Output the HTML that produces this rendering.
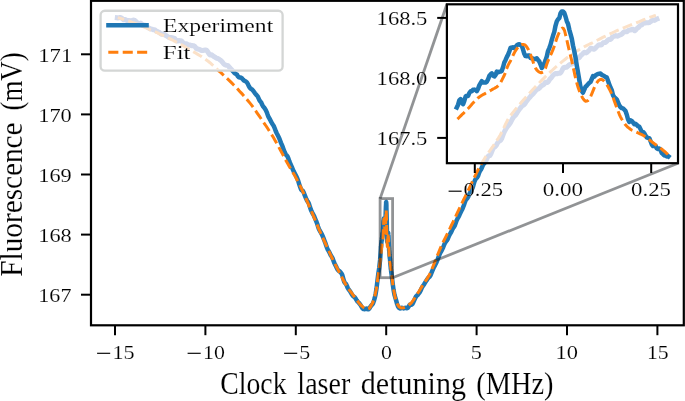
<!DOCTYPE html>
<html><head><meta charset="utf-8"><title>Fluorescence vs clock laser detuning</title>
<style>html,body{margin:0;padding:0;background:#fff;}body{width:685px;height:401px;overflow:hidden;}svg{display:block;}text{font-family:"Liberation Serif",serif;fill:#000;stroke:#fff;stroke-width:0.14px;}</style></head><body>
<svg style="will-change:transform" width="685" height="401" viewBox="0 0 685 401">
<rect x="0" y="0" width="685" height="401" fill="#ffffff"/>
<defs><clipPath id="cm"><rect x="91.0" y="0.8" width="592.8" height="324.5"/></clipPath>
<clipPath id="ci"><rect x="446.9" y="4.3" width="231.1" height="158.9"/></clipPath>
<clipPath id="cf"><rect x="101.4" y="11.3" width="180.2" height="58.3" rx="3.5" ry="3.5"/><rect x="446.9" y="4.3" width="231.1" height="158.9"/></clipPath></defs>
<g clip-path="url(#cm)" fill="none" stroke-linejoin="round">
<path d="M117.3 17.8L118.2 17.9L119.1 17.7L120.0 17.4L120.9 17.6L121.8 18.1L122.7 19.1L123.6 19.8L124.5 19.6L125.4 19.6L126.3 20.2L127.2 20.6L128.1 20.5L129.0 20.4L129.9 20.9L130.8 21.1L131.7 20.7L132.6 20.3L133.5 20.1L134.4 20.2L135.3 20.8L136.2 21.7L137.1 22.6L138.0 23.5L138.9 23.9L139.8 23.4L140.7 23.1L141.6 23.9L142.5 24.9L143.4 25.2L144.3 25.1L145.2 25.3L146.1 25.8L147.0 26.7L147.9 27.6L148.8 28.0L149.7 28.5L150.6 29.0L151.5 29.1L152.4 29.3L153.3 29.7L154.2 29.8L155.1 30.0L156.0 30.9L156.9 31.5L157.8 31.6L158.7 32.1L159.6 32.7L160.5 33.4L161.4 34.3L162.3 34.3L163.2 33.9L164.1 34.2L165.0 35.0L165.9 35.5L166.8 36.0L167.7 36.6L168.6 37.3L169.5 37.7L170.4 37.5L171.3 37.5L172.2 37.7L173.1 37.9L174.0 38.1L174.9 38.7L175.8 39.9L176.7 41.0L177.6 41.1L178.5 40.5L179.4 40.6L180.3 40.8L181.2 40.8L182.1 41.5L183.0 42.8L183.9 43.9L184.8 44.0L185.7 43.7L186.6 43.7L187.5 44.4L188.4 45.1L189.3 45.1L190.2 45.1L191.1 45.5L192.0 45.7L192.9 45.6L193.8 45.8L194.7 46.4L195.6 47.5L196.5 48.5L197.4 49.0L198.3 49.1L199.2 49.4L200.1 49.8L201.0 50.3L201.9 50.6L202.8 50.5L203.7 50.3L204.6 50.2L205.5 49.9L206.4 50.1L207.3 51.2L208.2 52.5L209.1 54.1L210.0 55.0L210.9 54.8L211.8 54.8L212.7 55.6L213.6 56.4L214.5 56.8L215.4 57.4L216.3 58.2L217.2 58.5L218.1 58.6L219.0 59.1L219.9 59.8L220.8 60.4L221.7 61.3L222.6 62.4L223.5 63.7L224.4 64.5L225.3 64.9L226.2 65.2L227.1 65.4L228.0 65.7L228.9 66.7L229.8 67.8L230.7 68.7L231.6 69.7L232.5 70.7L233.4 71.7L234.3 72.8L235.2 73.6L236.1 74.1L237.0 74.7L237.9 76.3L238.8 77.3L239.7 77.4L240.6 77.4L241.5 77.9L242.4 78.8L243.3 79.9L244.2 80.6L245.1 81.0L246.0 81.6L246.9 82.4L247.8 83.9L248.7 85.8L249.6 87.4L250.5 88.4L251.4 89.1L252.3 89.7L253.2 90.7L254.1 92.0L255.0 93.3L255.9 94.4L256.8 95.3L257.7 96.4L258.6 98.4L259.5 100.4L260.4 101.5L261.3 102.7L262.2 104.8L263.1 106.5L264.0 107.4L264.9 108.6L265.8 110.1L266.7 112.1L267.6 114.6L268.5 116.8L269.4 118.4L270.3 120.1L271.2 121.9L272.1 123.5L273.0 124.9L273.9 126.3L274.8 128.5L275.7 131.0L276.6 133.0L277.5 134.8L278.4 136.6L279.3 138.4L280.2 140.7L281.1 143.1L282.0 145.2L282.9 147.4L283.8 149.9L284.7 152.3L285.6 154.1L286.5 155.3L287.4 156.3L288.3 158.2L289.2 160.9L290.1 163.3L291.0 165.1L291.9 167.1L292.8 169.3L293.7 171.4L294.6 173.1L295.5 174.8L296.4 176.6L297.3 178.5L298.2 180.9L299.1 183.8L300.0 186.6L300.9 189.1L301.8 190.3L302.7 190.8L303.6 192.2L304.5 194.6L305.4 196.9L306.3 199.1L307.2 200.9L308.1 202.0L309.0 203.8L309.9 206.8L310.8 209.5L311.7 211.6L312.6 213.4L313.5 214.9L314.4 216.8L315.3 219.0L316.2 221.1L317.1 223.5L318.0 226.4L318.9 229.0L319.8 230.8L320.7 232.2L321.6 233.8L322.5 235.7L323.4 237.9L324.3 240.3L325.2 242.6L326.1 245.2L327.0 247.8L327.9 249.9L328.8 251.3L329.7 253.1L330.6 255.0L331.5 256.4L332.4 257.9L333.3 260.2L334.2 262.7L335.1 264.6L336.0 266.3L336.9 268.2L337.8 269.9L338.7 270.7L339.6 271.2L340.5 272.2L341.4 273.3L342.3 275.1L343.2 278.4L344.1 281.5L345.0 283.0L345.9 283.9L346.8 285.6L347.7 287.9L348.6 289.4L349.5 290.5L350.4 291.8L351.3 293.3L352.2 294.9L353.1 296.0L354.0 296.7L354.9 297.5L355.8 298.8L356.7 300.3L357.6 301.6L358.5 302.4L359.4 303.5L360.3 304.6L361.2 306.1L362.1 307.8L363.0 308.9L363.9 309.0L364.8 309.2L365.7 308.9L366.6 308.5L367.5 309.0L368.4 309.3L369.3 308.5L370.2 307.0L371.1 305.8L372.0 304.8L372.9 303.6L373.8 301.3L374.7 298.2L375.6 294.2L376.5 288.7L377.4 280.9L378.3 273.9L379.2 268.0L380.1 260.0L380.8 249.9L380.9 248.0L380.9 246.6L381.0 247.4L381.1 246.7L381.2 243.7L381.4 242.8L381.5 241.4L381.6 240.5L381.7 241.1L381.9 239.2L382.0 237.7L382.1 237.5L382.3 236.4L382.4 234.8L382.5 233.0L382.6 234.3L382.7 234.8L382.9 232.1L383.0 231.1L383.1 229.6L383.3 225.5L383.4 223.2L383.5 221.1L383.6 220.5L383.7 220.4L383.8 219.3L383.9 218.5L384.0 219.4L384.1 220.7L384.3 222.9L384.4 223.5L384.5 224.4L384.6 225.4L384.7 225.9L384.9 225.5L385.0 227.1L385.1 228.5L385.1 229.2L385.2 228.4L385.3 226.6L385.4 223.2L385.5 219.7L385.6 216.3L385.7 213.1L385.8 209.7L385.9 206.6L386.0 205.3L386.1 203.7L386.1 202.4L386.2 202.0L386.3 203.2L386.4 205.4L386.4 207.6L386.5 210.8L386.6 214.1L386.7 217.7L386.8 221.7L386.8 225.6L386.9 229.4L387.0 233.9L387.1 238.2L387.1 240.7L387.2 241.7L387.3 241.0L387.4 239.7L387.6 238.2L387.7 236.4L387.8 234.7L387.9 233.6L388.0 232.9L388.1 232.6L388.2 233.2L388.3 234.2L388.5 235.8L388.6 238.5L388.7 241.4L388.8 243.7L388.9 246.5L389.0 247.4L389.1 248.5L389.1 250.1L389.2 250.5L389.3 251.0L389.4 252.6L389.5 255.0L389.7 256.6L389.8 258.0L390.0 259.0L390.1 260.6L390.2 262.5L390.3 263.4L390.4 264.3L390.5 265.5L390.7 267.1L390.8 269.0L391.0 269.7L391.1 271.2L391.2 271.6L391.3 272.7L391.5 273.9L391.6 274.5L392.7 283.7L393.6 290.2L394.5 294.9L395.4 297.9L396.3 301.0L397.2 304.3L398.1 306.6L399.0 307.8L399.9 308.4L400.8 308.3L401.7 307.8L402.6 307.9L403.5 308.4L404.4 308.1L405.3 307.7L406.2 308.1L407.1 308.3L408.0 307.6L408.9 306.1L409.8 304.8L410.7 304.6L411.6 304.7L412.5 303.8L413.4 302.2L414.3 300.2L415.2 298.1L416.1 296.4L417.0 295.5L417.9 294.7L418.8 293.5L419.7 292.3L420.6 290.6L421.5 288.5L422.4 286.8L423.3 285.5L424.2 284.2L425.1 282.7L426.0 281.2L426.9 279.9L427.8 278.5L428.7 277.4L429.6 276.7L430.5 275.3L431.4 273.1L432.3 270.9L433.2 268.8L434.1 266.9L435.0 265.3L435.9 263.5L436.8 261.5L437.7 259.2L438.6 256.9L439.5 254.7L440.4 252.7L441.3 251.1L442.2 249.4L443.1 247.5L444.0 245.2L444.9 243.1L445.8 241.8L446.7 240.7L447.6 239.3L448.5 237.2L449.4 235.2L450.3 233.5L451.2 232.0L452.1 230.0L453.0 228.2L453.9 227.1L454.8 225.6L455.7 223.0L456.6 220.5L457.5 218.7L458.4 217.1L459.3 215.4L460.2 213.4L461.1 211.5L462.0 209.8L462.9 207.8L463.8 205.5L464.7 202.8L465.6 200.4L466.5 199.0L467.4 198.2L468.3 196.6L469.2 194.5L470.1 192.6L471.0 190.8L471.9 189.3L472.8 187.3L473.7 184.2L474.6 181.2L475.5 179.3L476.4 178.2L477.3 177.3L478.2 175.6L479.1 172.9L480.0 170.8L480.9 169.6L481.8 167.9L482.7 165.7L483.6 164.2L484.5 163.1L485.4 161.8L486.3 159.9L487.2 157.9L488.1 156.3L489.0 155.7L489.9 155.5L490.8 154.2L491.7 151.9L492.6 149.6L493.5 147.9L494.4 147.2L495.3 146.6L496.2 145.4L497.1 143.8L498.0 142.3L498.9 141.3L499.8 140.8L500.7 140.3L501.6 138.8L502.5 136.3L503.4 133.8L504.3 132.0L505.2 130.2L506.1 128.6L507.0 127.2L507.9 126.0L508.8 125.0L509.7 123.8L510.6 122.4L511.5 120.6L512.4 118.9L513.3 117.4L514.2 116.4L515.1 115.5L516.0 114.5L516.9 113.1L517.8 111.5L518.7 110.2L519.6 109.0L520.5 107.9L521.4 106.7L522.3 105.6L523.2 105.2L524.1 104.7L525.0 103.6L525.9 102.2L526.8 100.9L527.7 99.7L528.6 98.7L529.5 97.7L530.4 96.6L531.3 95.4L532.2 94.7L533.1 93.8L534.0 92.7L534.9 91.6L535.8 90.5L536.7 89.5L537.6 89.1L538.5 88.8L539.4 88.1L540.3 87.0L541.2 86.0L542.1 85.4L543.0 85.1L543.9 84.4L544.8 83.2L545.7 82.2L546.6 82.3L547.5 82.4L548.4 81.6L549.3 80.0L550.2 78.7L551.1 78.0L552.0 76.8L552.9 75.4L553.8 74.7L554.7 73.9L555.6 73.4L556.5 73.5L557.4 73.7L558.3 73.3L559.2 73.1L560.1 73.2L561.0 72.3L561.9 70.6L562.8 68.8L563.7 67.6L564.6 67.3L565.5 67.4L566.4 67.2L567.3 66.7L568.2 65.9L569.1 64.9L570.0 64.4L570.9 64.3L571.8 64.1L572.7 63.4L573.6 62.4L574.5 61.2L575.4 60.0L576.3 58.7L577.2 58.1L578.1 58.1L579.0 57.9L579.9 56.8L580.8 55.5L581.7 54.8L582.6 54.0L583.5 52.9L584.4 52.2L585.3 52.6L586.2 52.9L587.1 52.4L588.0 51.4L588.9 50.6L589.8 49.5L590.7 48.2L591.6 48.2L592.5 48.9L593.4 49.2L594.3 49.2L595.2 48.4L596.1 47.3L597.0 46.5L597.9 45.7L598.8 44.9L599.7 44.7L600.6 45.0L601.5 44.8L602.4 43.7L603.3 42.8L604.2 42.6L605.1 42.5L606.0 42.1L606.9 41.2L607.8 40.1L608.7 39.4L609.6 39.4L610.5 39.4L611.4 38.6L612.3 37.2L613.2 36.6L614.1 36.4L615.0 35.9L615.9 35.6L616.8 36.1L617.7 36.2L618.6 35.6L619.5 35.1L620.4 34.8L621.3 34.5L622.2 33.8L623.1 32.7L624.0 32.0L624.9 31.8L625.8 31.8L626.7 31.7L627.6 31.2L628.5 30.4L629.4 30.1L630.3 30.1L631.2 29.8L632.1 29.2L633.0 29.3L633.9 30.2L634.8 30.8L635.7 30.1L636.6 28.8L637.5 28.0L638.4 27.5L639.3 26.5L640.2 25.5L641.1 25.2L642.0 24.8L642.9 23.6L643.8 22.6L644.7 22.5L645.6 22.9L646.5 22.8L647.4 22.7L648.3 22.8L649.2 22.6L650.1 22.0L651.0 21.4L651.9 20.6L652.8 20.1L653.7 20.2L654.6 20.4L655.5 19.9L656.4 19.2L656.9 19.0" stroke="#1f77b4" stroke-width="4.5" stroke-linecap="square"/>
<path d="M117.8 17.6L119.6 18.1L121.4 18.7L123.2 19.2L125.0 19.8L126.8 20.4L128.6 21.0L130.5 21.6L132.3 22.3L134.1 23.0L135.9 23.7L137.7 24.4L139.5 25.1L141.3 25.9L143.1 26.6L144.9 27.4L146.7 28.2L148.5 29.0L150.3 29.8L152.2 30.5L154.0 31.3L155.8 32.1L157.6 32.9L159.4 33.8L161.2 34.6L163.0 35.4L164.8 36.3L166.6 37.1L168.4 38.0L170.2 38.9L172.0 39.8L173.8 40.8L175.7 41.7L177.5 42.7L179.3 43.6L181.1 44.6L182.9 45.6L184.7 46.6L186.5 47.7L188.3 48.7L190.1 49.8L191.9 50.8L193.7 51.9L195.5 53.0L197.4 54.1L199.2 55.2L201.0 56.3L202.8 57.5L204.6 58.7L206.4 60.0L208.2 61.3L210.0 62.7L211.8 64.3L213.6 65.9L215.4 67.7L217.2 69.4L219.0 71.1L220.9 72.7L222.7 74.4L224.5 76.0L226.3 77.7L228.1 79.4L229.9 81.1L231.7 82.9L233.5 84.7L235.3 86.6L237.1 88.5L238.9 90.4L240.7 92.4L242.6 94.4L244.4 96.5L246.2 98.5L248.0 100.7L249.8 102.9L251.6 105.2L253.4 107.6L255.2 110.2L257.0 112.8L258.8 115.4L260.6 118.0L262.4 120.7L264.2 123.3L266.1 126.0L267.9 128.8L269.7 131.6L271.5 134.4L273.3 137.3L275.1 140.4L276.9 143.6L278.7 146.9L280.5 150.2L282.3 153.6L284.1 157.0L285.9 160.4L287.8 163.7L289.6 166.9L291.4 170.0L293.2 173.0L295.0 176.1L296.8 179.5L298.6 182.9L300.4 186.4L302.2 190.2L304.0 194.1L305.8 198.3L307.6 202.4L309.4 206.6L311.3 210.8L313.1 215.1L314.9 219.4L316.7 223.7L318.5 228.1L320.3 232.2L322.1 236.3L323.9 240.2L325.7 244.1L327.5 248.0L329.3 252.0L331.1 256.0L333.0 259.8L334.8 263.5L336.6 267.1L338.4 270.6L340.2 274.1L342.0 277.5L343.8 281.0L345.6 284.2L347.4 287.1L349.2 289.8L351.0 292.2L352.8 294.6L354.6 297.0L356.5 299.5L358.3 302.1L360.1 304.4L361.9 306.1L363.7 307.5L365.5 308.6L367.3 309.2L369.1 308.5L370.9 306.0L372.7 302.7L374.5 297.5L376.3 289.3L378.2 275.5L379.0 269.7L379.1 268.5L379.3 267.2L379.5 265.9L379.7 264.6L379.9 263.3L380.1 261.9L380.2 260.5L380.4 259.0L380.6 257.5L380.8 256.0L381.0 254.3L381.1 252.5L381.3 250.7L381.5 248.7L381.7 246.8L381.9 245.2L382.0 243.9L382.2 242.9L382.4 241.9L382.6 240.9L382.8 239.9L382.9 238.4L383.1 235.2L383.3 230.7L383.5 227.0L383.7 223.3L383.8 220.4L384.0 218.7L384.2 218.5L384.4 220.4L384.6 224.4L384.8 229.4L384.9 231.9L385.1 232.5L385.3 230.5L385.5 225.6L385.7 221.7L385.8 216.6L386.0 212.1L386.2 210.2L386.4 215.4L386.6 223.1L386.7 230.8L386.9 238.3L387.1 243.2L387.3 246.3L387.5 246.6L387.6 243.8L387.8 239.5L388.0 236.6L388.2 235.9L388.4 237.5L388.6 240.3L388.7 244.2L388.9 249.0L389.1 253.6L389.3 256.9L389.5 259.2L389.6 260.8L389.8 261.7L390.0 262.5L390.2 263.3L390.4 264.3L390.5 265.5L390.7 266.9L390.9 268.3L391.1 269.5L391.3 270.9L391.4 272.4L391.6 274.0L391.8 275.5L392.0 277.1L392.2 278.8L392.3 280.3L392.5 281.9L392.7 283.4L392.9 284.7L393.1 286.0L393.3 287.2L393.4 288.3L395.2 297.8L397.0 303.5L398.9 306.6L400.7 307.7L402.5 308.0L404.3 307.5L406.1 306.8L407.9 305.7L409.7 304.3L411.5 302.6L413.3 300.2L415.1 297.4L416.9 294.6L418.7 291.7L420.6 288.7L422.4 285.7L424.2 282.8L426.0 280.3L427.8 277.6L429.6 274.5L431.4 270.5L433.2 266.0L435.0 261.4L436.8 257.0L438.6 252.5L440.4 248.1L442.2 244.0L444.1 240.2L445.9 236.6L447.7 233.0L449.5 229.3L451.3 225.5L453.1 221.8L454.9 218.0L456.7 214.2L458.5 210.4L460.3 206.6L462.1 202.9L463.9 199.1L465.8 195.4L467.6 191.7L469.4 187.9L471.2 184.1L473.0 180.3L474.8 176.5L476.6 172.8L478.4 169.3L480.2 165.9L482.0 162.7L483.8 159.7L485.6 156.8L487.4 154.1L489.3 151.5L491.1 148.9L492.9 146.4L494.7 143.7L496.5 141.0L498.3 138.2L500.1 135.2L501.9 131.9L503.7 128.1L505.5 124.2L507.3 120.6L509.1 117.6L511.0 115.0L512.8 112.6L514.6 110.4L516.4 108.2L518.2 106.0L520.0 103.9L521.8 101.8L523.6 99.8L525.4 97.8L527.2 95.8L529.0 93.8L530.8 91.8L532.6 89.8L534.5 87.8L536.3 85.9L538.1 84.1L539.9 82.2L541.7 80.4L543.5 78.6L545.3 76.8L547.1 75.0L548.9 73.3L550.7 71.6L552.5 70.0L554.3 68.3L556.2 66.7L558.0 65.1L559.8 63.6L561.6 62.1L563.4 60.6L565.2 59.2L567.0 57.8L568.8 56.5L570.6 55.2L572.4 53.9L574.2 52.7L576.0 51.5L577.8 50.4L579.7 49.3L581.5 48.2L583.3 47.3L585.1 46.3L586.9 45.4L588.7 44.5L590.5 43.6L592.3 42.8L594.1 41.8L595.9 40.9L597.7 40.0L599.5 39.1L601.4 38.1L603.2 37.2L605.0 36.3L606.8 35.4L608.6 34.6L610.4 33.7L612.2 32.9L614.0 32.0L615.8 31.2L617.6 30.4L619.4 29.6L621.2 28.8L623.0 28.1L624.9 27.3L626.7 26.6L628.5 25.9L630.3 25.2L632.1 24.5L633.9 23.8L635.7 23.1L637.5 22.3L639.3 21.6L641.1 20.8L642.9 20.0L644.7 19.3L646.6 18.6L648.4 17.9L650.2 17.2L652.0 16.6L653.8 16.0L655.6 15.4L655.9 15.3" stroke="#ff7f0e" stroke-width="3.0" stroke-dasharray="10.06 4.35" stroke-dashoffset="3.5" stroke-linecap="butt"/>
</g>
<g fill="none" stroke="#101418" stroke-opacity="0.46" stroke-width="2.8" stroke-linecap="butt">
<rect x="380.1" y="198.6" width="12.5" height="79.1"/>
<path d="M380.1 198.6L446.9 4.3"/>
<path d="M392.6 277.7L678.0 163.2"/>
</g>
<g stroke="#000" stroke-width="2.2" fill="none" stroke-linecap="square">
<rect x="91.0" y="0.8" width="592.8" height="324.5"/>
</g>
<g stroke="#000" stroke-width="2.0" fill="none" stroke-linecap="butt">
<path d="M115.0 325.4V335.2"/>
<path d="M205.4 325.4V335.2"/>
<path d="M295.8 325.4V335.2"/>
<path d="M386.2 325.4V335.2"/>
<path d="M476.6 325.4V335.2"/>
<path d="M567.0 325.4V335.2"/>
<path d="M657.4 325.4V335.2"/>
<path d="M91.0 294.7H81.0"/>
<path d="M91.0 234.6H81.0"/>
<path d="M91.0 174.5H81.0"/>
<path d="M91.0 114.4H81.0"/>
<path d="M91.0 54.3H81.0"/>
</g>
<rect x="100.6" y="10.75" width="182.0" height="59.85" rx="4.2" ry="4.2" fill="#ffffff" stroke="#d4d6d5" stroke-width="2.3"/>
<rect x="446.9" y="4.3" width="231.1" height="158.9" fill="#ffffff"/>
<g clip-path="url(#cf)" fill="none" stroke-linejoin="round">
<path d="M117.3 17.8L118.2 17.9L119.1 17.7L120.0 17.4L120.9 17.6L121.8 18.1L122.7 19.1L123.6 19.8L124.5 19.6L125.4 19.6L126.3 20.2L127.2 20.6L128.1 20.5L129.0 20.4L129.9 20.9L130.8 21.1L131.7 20.7L132.6 20.3L133.5 20.1L134.4 20.2L135.3 20.8L136.2 21.7L137.1 22.6L138.0 23.5L138.9 23.9L139.8 23.4L140.7 23.1L141.6 23.9L142.5 24.9L143.4 25.2L144.3 25.1L145.2 25.3L146.1 25.8L147.0 26.7L147.9 27.6L148.8 28.0L149.7 28.5L150.6 29.0L151.5 29.1L152.4 29.3L153.3 29.7L154.2 29.8L155.1 30.0L156.0 30.9L156.9 31.5L157.8 31.6L158.7 32.1L159.6 32.7L160.5 33.4L161.4 34.3L162.3 34.3L163.2 33.9L164.1 34.2L165.0 35.0L165.9 35.5L166.8 36.0L167.7 36.6L168.6 37.3L169.5 37.7L170.4 37.5L171.3 37.5L172.2 37.7L173.1 37.9L174.0 38.1L174.9 38.7L175.8 39.9L176.7 41.0L177.6 41.1L178.5 40.5L179.4 40.6L180.3 40.8L181.2 40.8L182.1 41.5L183.0 42.8L183.9 43.9L184.8 44.0L185.7 43.7L186.6 43.7L187.5 44.4L188.4 45.1L189.3 45.1L190.2 45.1L191.1 45.5L192.0 45.7L192.9 45.6L193.8 45.8L194.7 46.4L195.6 47.5L196.5 48.5L197.4 49.0L198.3 49.1L199.2 49.4L200.1 49.8L201.0 50.3L201.9 50.6L202.8 50.5L203.7 50.3L204.6 50.2L205.5 49.9L206.4 50.1L207.3 51.2L208.2 52.5L209.1 54.1L210.0 55.0L210.9 54.8L211.8 54.8L212.7 55.6L213.6 56.4L214.5 56.8L215.4 57.4L216.3 58.2L217.2 58.5L218.1 58.6L219.0 59.1L219.9 59.8L220.8 60.4L221.7 61.3L222.6 62.4L223.5 63.7L224.4 64.5L225.3 64.9L226.2 65.2L227.1 65.4L228.0 65.7L228.9 66.7L229.8 67.8L230.7 68.7L231.6 69.7L232.5 70.7L233.4 71.7L234.3 72.8L235.2 73.6L236.1 74.1L237.0 74.7L237.9 76.3L238.8 77.3L239.7 77.4L240.6 77.4L241.5 77.9L242.4 78.8L243.3 79.9L244.2 80.6L245.1 81.0L246.0 81.6L246.9 82.4L247.8 83.9L248.7 85.8L249.6 87.4L250.5 88.4L251.4 89.1L252.3 89.7L253.2 90.7L254.1 92.0L255.0 93.3L255.9 94.4L256.8 95.3L257.7 96.4L258.6 98.4L259.5 100.4L260.4 101.5L261.3 102.7L262.2 104.8L263.1 106.5L264.0 107.4L264.9 108.6L265.8 110.1L266.7 112.1L267.6 114.6L268.5 116.8L269.4 118.4L270.3 120.1L271.2 121.9L272.1 123.5L273.0 124.9L273.9 126.3L274.8 128.5L275.7 131.0L276.6 133.0L277.5 134.8L278.4 136.6L279.3 138.4L280.2 140.7L281.1 143.1L282.0 145.2L282.9 147.4L283.8 149.9L284.7 152.3L285.6 154.1L286.5 155.3L287.4 156.3L288.3 158.2L289.2 160.9L290.1 163.3L291.0 165.1L291.9 167.1L292.8 169.3L293.7 171.4L294.6 173.1L295.5 174.8L296.4 176.6L297.3 178.5L298.2 180.9L299.1 183.8L300.0 186.6L300.9 189.1L301.8 190.3L302.7 190.8L303.6 192.2L304.5 194.6L305.4 196.9L306.3 199.1L307.2 200.9L308.1 202.0L309.0 203.8L309.9 206.8L310.8 209.5L311.7 211.6L312.6 213.4L313.5 214.9L314.4 216.8L315.3 219.0L316.2 221.1L317.1 223.5L318.0 226.4L318.9 229.0L319.8 230.8L320.7 232.2L321.6 233.8L322.5 235.7L323.4 237.9L324.3 240.3L325.2 242.6L326.1 245.2L327.0 247.8L327.9 249.9L328.8 251.3L329.7 253.1L330.6 255.0L331.5 256.4L332.4 257.9L333.3 260.2L334.2 262.7L335.1 264.6L336.0 266.3L336.9 268.2L337.8 269.9L338.7 270.7L339.6 271.2L340.5 272.2L341.4 273.3L342.3 275.1L343.2 278.4L344.1 281.5L345.0 283.0L345.9 283.9L346.8 285.6L347.7 287.9L348.6 289.4L349.5 290.5L350.4 291.8L351.3 293.3L352.2 294.9L353.1 296.0L354.0 296.7L354.9 297.5L355.8 298.8L356.7 300.3L357.6 301.6L358.5 302.4L359.4 303.5L360.3 304.6L361.2 306.1L362.1 307.8L363.0 308.9L363.9 309.0L364.8 309.2L365.7 308.9L366.6 308.5L367.5 309.0L368.4 309.3L369.3 308.5L370.2 307.0L371.1 305.8L372.0 304.8L372.9 303.6L373.8 301.3L374.7 298.2L375.6 294.2L376.5 288.7L377.4 280.9L378.3 273.9L379.2 268.0L380.1 260.0L380.8 249.9L380.9 248.0L380.9 246.6L381.0 247.4L381.1 246.7L381.2 243.7L381.4 242.8L381.5 241.4L381.6 240.5L381.7 241.1L381.9 239.2L382.0 237.7L382.1 237.5L382.3 236.4L382.4 234.8L382.5 233.0L382.6 234.3L382.7 234.8L382.9 232.1L383.0 231.1L383.1 229.6L383.3 225.5L383.4 223.2L383.5 221.1L383.6 220.5L383.7 220.4L383.8 219.3L383.9 218.5L384.0 219.4L384.1 220.7L384.3 222.9L384.4 223.5L384.5 224.4L384.6 225.4L384.7 225.9L384.9 225.5L385.0 227.1L385.1 228.5L385.1 229.2L385.2 228.4L385.3 226.6L385.4 223.2L385.5 219.7L385.6 216.3L385.7 213.1L385.8 209.7L385.9 206.6L386.0 205.3L386.1 203.7L386.1 202.4L386.2 202.0L386.3 203.2L386.4 205.4L386.4 207.6L386.5 210.8L386.6 214.1L386.7 217.7L386.8 221.7L386.8 225.6L386.9 229.4L387.0 233.9L387.1 238.2L387.1 240.7L387.2 241.7L387.3 241.0L387.4 239.7L387.6 238.2L387.7 236.4L387.8 234.7L387.9 233.6L388.0 232.9L388.1 232.6L388.2 233.2L388.3 234.2L388.5 235.8L388.6 238.5L388.7 241.4L388.8 243.7L388.9 246.5L389.0 247.4L389.1 248.5L389.1 250.1L389.2 250.5L389.3 251.0L389.4 252.6L389.5 255.0L389.7 256.6L389.8 258.0L390.0 259.0L390.1 260.6L390.2 262.5L390.3 263.4L390.4 264.3L390.5 265.5L390.7 267.1L390.8 269.0L391.0 269.7L391.1 271.2L391.2 271.6L391.3 272.7L391.5 273.9L391.6 274.5L392.7 283.7L393.6 290.2L394.5 294.9L395.4 297.9L396.3 301.0L397.2 304.3L398.1 306.6L399.0 307.8L399.9 308.4L400.8 308.3L401.7 307.8L402.6 307.9L403.5 308.4L404.4 308.1L405.3 307.7L406.2 308.1L407.1 308.3L408.0 307.6L408.9 306.1L409.8 304.8L410.7 304.6L411.6 304.7L412.5 303.8L413.4 302.2L414.3 300.2L415.2 298.1L416.1 296.4L417.0 295.5L417.9 294.7L418.8 293.5L419.7 292.3L420.6 290.6L421.5 288.5L422.4 286.8L423.3 285.5L424.2 284.2L425.1 282.7L426.0 281.2L426.9 279.9L427.8 278.5L428.7 277.4L429.6 276.7L430.5 275.3L431.4 273.1L432.3 270.9L433.2 268.8L434.1 266.9L435.0 265.3L435.9 263.5L436.8 261.5L437.7 259.2L438.6 256.9L439.5 254.7L440.4 252.7L441.3 251.1L442.2 249.4L443.1 247.5L444.0 245.2L444.9 243.1L445.8 241.8L446.7 240.7L447.6 239.3L448.5 237.2L449.4 235.2L450.3 233.5L451.2 232.0L452.1 230.0L453.0 228.2L453.9 227.1L454.8 225.6L455.7 223.0L456.6 220.5L457.5 218.7L458.4 217.1L459.3 215.4L460.2 213.4L461.1 211.5L462.0 209.8L462.9 207.8L463.8 205.5L464.7 202.8L465.6 200.4L466.5 199.0L467.4 198.2L468.3 196.6L469.2 194.5L470.1 192.6L471.0 190.8L471.9 189.3L472.8 187.3L473.7 184.2L474.6 181.2L475.5 179.3L476.4 178.2L477.3 177.3L478.2 175.6L479.1 172.9L480.0 170.8L480.9 169.6L481.8 167.9L482.7 165.7L483.6 164.2L484.5 163.1L485.4 161.8L486.3 159.9L487.2 157.9L488.1 156.3L489.0 155.7L489.9 155.5L490.8 154.2L491.7 151.9L492.6 149.6L493.5 147.9L494.4 147.2L495.3 146.6L496.2 145.4L497.1 143.8L498.0 142.3L498.9 141.3L499.8 140.8L500.7 140.3L501.6 138.8L502.5 136.3L503.4 133.8L504.3 132.0L505.2 130.2L506.1 128.6L507.0 127.2L507.9 126.0L508.8 125.0L509.7 123.8L510.6 122.4L511.5 120.6L512.4 118.9L513.3 117.4L514.2 116.4L515.1 115.5L516.0 114.5L516.9 113.1L517.8 111.5L518.7 110.2L519.6 109.0L520.5 107.9L521.4 106.7L522.3 105.6L523.2 105.2L524.1 104.7L525.0 103.6L525.9 102.2L526.8 100.9L527.7 99.7L528.6 98.7L529.5 97.7L530.4 96.6L531.3 95.4L532.2 94.7L533.1 93.8L534.0 92.7L534.9 91.6L535.8 90.5L536.7 89.5L537.6 89.1L538.5 88.8L539.4 88.1L540.3 87.0L541.2 86.0L542.1 85.4L543.0 85.1L543.9 84.4L544.8 83.2L545.7 82.2L546.6 82.3L547.5 82.4L548.4 81.6L549.3 80.0L550.2 78.7L551.1 78.0L552.0 76.8L552.9 75.4L553.8 74.7L554.7 73.9L555.6 73.4L556.5 73.5L557.4 73.7L558.3 73.3L559.2 73.1L560.1 73.2L561.0 72.3L561.9 70.6L562.8 68.8L563.7 67.6L564.6 67.3L565.5 67.4L566.4 67.2L567.3 66.7L568.2 65.9L569.1 64.9L570.0 64.4L570.9 64.3L571.8 64.1L572.7 63.4L573.6 62.4L574.5 61.2L575.4 60.0L576.3 58.7L577.2 58.1L578.1 58.1L579.0 57.9L579.9 56.8L580.8 55.5L581.7 54.8L582.6 54.0L583.5 52.9L584.4 52.2L585.3 52.6L586.2 52.9L587.1 52.4L588.0 51.4L588.9 50.6L589.8 49.5L590.7 48.2L591.6 48.2L592.5 48.9L593.4 49.2L594.3 49.2L595.2 48.4L596.1 47.3L597.0 46.5L597.9 45.7L598.8 44.9L599.7 44.7L600.6 45.0L601.5 44.8L602.4 43.7L603.3 42.8L604.2 42.6L605.1 42.5L606.0 42.1L606.9 41.2L607.8 40.1L608.7 39.4L609.6 39.4L610.5 39.4L611.4 38.6L612.3 37.2L613.2 36.6L614.1 36.4L615.0 35.9L615.9 35.6L616.8 36.1L617.7 36.2L618.6 35.6L619.5 35.1L620.4 34.8L621.3 34.5L622.2 33.8L623.1 32.7L624.0 32.0L624.9 31.8L625.8 31.8L626.7 31.7L627.6 31.2L628.5 30.4L629.4 30.1L630.3 30.1L631.2 29.8L632.1 29.2L633.0 29.3L633.9 30.2L634.8 30.8L635.7 30.1L636.6 28.8L637.5 28.0L638.4 27.5L639.3 26.5L640.2 25.5L641.1 25.2L642.0 24.8L642.9 23.6L643.8 22.6L644.7 22.5L645.6 22.9L646.5 22.8L647.4 22.7L648.3 22.8L649.2 22.6L650.1 22.0L651.0 21.4L651.9 20.6L652.8 20.1L653.7 20.2L654.6 20.4L655.5 19.9L656.4 19.2L656.9 19.0" stroke="#d3daec" stroke-width="5.0" stroke-linecap="square"/>
<path d="M117.8 17.6L119.6 18.1L121.4 18.7L123.2 19.2L125.0 19.8L126.8 20.4L128.6 21.0L130.5 21.6L132.3 22.3L134.1 23.0L135.9 23.7L137.7 24.4L139.5 25.1L141.3 25.9L143.1 26.6L144.9 27.4L146.7 28.2L148.5 29.0L150.3 29.8L152.2 30.5L154.0 31.3L155.8 32.1L157.6 32.9L159.4 33.8L161.2 34.6L163.0 35.4L164.8 36.3L166.6 37.1L168.4 38.0L170.2 38.9L172.0 39.8L173.8 40.8L175.7 41.7L177.5 42.7L179.3 43.6L181.1 44.6L182.9 45.6L184.7 46.6L186.5 47.7L188.3 48.7L190.1 49.8L191.9 50.8L193.7 51.9L195.5 53.0L197.4 54.1L199.2 55.2L201.0 56.3L202.8 57.5L204.6 58.7L206.4 60.0L208.2 61.3L210.0 62.7L211.8 64.3L213.6 65.9L215.4 67.7L217.2 69.4L219.0 71.1L220.9 72.7L222.7 74.4L224.5 76.0L226.3 77.7L228.1 79.4L229.9 81.1L231.7 82.9L233.5 84.7L235.3 86.6L237.1 88.5L238.9 90.4L240.7 92.4L242.6 94.4L244.4 96.5L246.2 98.5L248.0 100.7L249.8 102.9L251.6 105.2L253.4 107.6L255.2 110.2L257.0 112.8L258.8 115.4L260.6 118.0L262.4 120.7L264.2 123.3L266.1 126.0L267.9 128.8L269.7 131.6L271.5 134.4L273.3 137.3L275.1 140.4L276.9 143.6L278.7 146.9L280.5 150.2L282.3 153.6L284.1 157.0L285.9 160.4L287.8 163.7L289.6 166.9L291.4 170.0L293.2 173.0L295.0 176.1L296.8 179.5L298.6 182.9L300.4 186.4L302.2 190.2L304.0 194.1L305.8 198.3L307.6 202.4L309.4 206.6L311.3 210.8L313.1 215.1L314.9 219.4L316.7 223.7L318.5 228.1L320.3 232.2L322.1 236.3L323.9 240.2L325.7 244.1L327.5 248.0L329.3 252.0L331.1 256.0L333.0 259.8L334.8 263.5L336.6 267.1L338.4 270.6L340.2 274.1L342.0 277.5L343.8 281.0L345.6 284.2L347.4 287.1L349.2 289.8L351.0 292.2L352.8 294.6L354.6 297.0L356.5 299.5L358.3 302.1L360.1 304.4L361.9 306.1L363.7 307.5L365.5 308.6L367.3 309.2L369.1 308.5L370.9 306.0L372.7 302.7L374.5 297.5L376.3 289.3L378.2 275.5L379.0 269.7L379.1 268.5L379.3 267.2L379.5 265.9L379.7 264.6L379.9 263.3L380.1 261.9L380.2 260.5L380.4 259.0L380.6 257.5L380.8 256.0L381.0 254.3L381.1 252.5L381.3 250.7L381.5 248.7L381.7 246.8L381.9 245.2L382.0 243.9L382.2 242.9L382.4 241.9L382.6 240.9L382.8 239.9L382.9 238.4L383.1 235.2L383.3 230.7L383.5 227.0L383.7 223.3L383.8 220.4L384.0 218.7L384.2 218.5L384.4 220.4L384.6 224.4L384.8 229.4L384.9 231.9L385.1 232.5L385.3 230.5L385.5 225.6L385.7 221.7L385.8 216.6L386.0 212.1L386.2 210.2L386.4 215.4L386.6 223.1L386.7 230.8L386.9 238.3L387.1 243.2L387.3 246.3L387.5 246.6L387.6 243.8L387.8 239.5L388.0 236.6L388.2 235.9L388.4 237.5L388.6 240.3L388.7 244.2L388.9 249.0L389.1 253.6L389.3 256.9L389.5 259.2L389.6 260.8L389.8 261.7L390.0 262.5L390.2 263.3L390.4 264.3L390.5 265.5L390.7 266.9L390.9 268.3L391.1 269.5L391.3 270.9L391.4 272.4L391.6 274.0L391.8 275.5L392.0 277.1L392.2 278.8L392.3 280.3L392.5 281.9L392.7 283.4L392.9 284.7L393.1 286.0L393.3 287.2L393.4 288.3L395.2 297.8L397.0 303.5L398.9 306.6L400.7 307.7L402.5 308.0L404.3 307.5L406.1 306.8L407.9 305.7L409.7 304.3L411.5 302.6L413.3 300.2L415.1 297.4L416.9 294.6L418.7 291.7L420.6 288.7L422.4 285.7L424.2 282.8L426.0 280.3L427.8 277.6L429.6 274.5L431.4 270.5L433.2 266.0L435.0 261.4L436.8 257.0L438.6 252.5L440.4 248.1L442.2 244.0L444.1 240.2L445.9 236.6L447.7 233.0L449.5 229.3L451.3 225.5L453.1 221.8L454.9 218.0L456.7 214.2L458.5 210.4L460.3 206.6L462.1 202.9L463.9 199.1L465.8 195.4L467.6 191.7L469.4 187.9L471.2 184.1L473.0 180.3L474.8 176.5L476.6 172.8L478.4 169.3L480.2 165.9L482.0 162.7L483.8 159.7L485.6 156.8L487.4 154.1L489.3 151.5L491.1 148.9L492.9 146.4L494.7 143.7L496.5 141.0L498.3 138.2L500.1 135.2L501.9 131.9L503.7 128.1L505.5 124.2L507.3 120.6L509.1 117.6L511.0 115.0L512.8 112.6L514.6 110.4L516.4 108.2L518.2 106.0L520.0 103.9L521.8 101.8L523.6 99.8L525.4 97.8L527.2 95.8L529.0 93.8L530.8 91.8L532.6 89.8L534.5 87.8L536.3 85.9L538.1 84.1L539.9 82.2L541.7 80.4L543.5 78.6L545.3 76.8L547.1 75.0L548.9 73.3L550.7 71.6L552.5 70.0L554.3 68.3L556.2 66.7L558.0 65.1L559.8 63.6L561.6 62.1L563.4 60.6L565.2 59.2L567.0 57.8L568.8 56.5L570.6 55.2L572.4 53.9L574.2 52.7L576.0 51.5L577.8 50.4L579.7 49.3L581.5 48.2L583.3 47.3L585.1 46.3L586.9 45.4L588.7 44.5L590.5 43.6L592.3 42.8L594.1 41.8L595.9 40.9L597.7 40.0L599.5 39.1L601.4 38.1L603.2 37.2L605.0 36.3L606.8 35.4L608.6 34.6L610.4 33.7L612.2 32.9L614.0 32.0L615.8 31.2L617.6 30.4L619.4 29.6L621.2 28.8L623.0 28.1L624.9 27.3L626.7 26.6L628.5 25.9L630.3 25.2L632.1 24.5L633.9 23.8L635.7 23.1L637.5 22.3L639.3 21.6L641.1 20.8L642.9 20.0L644.7 19.3L646.6 18.6L648.4 17.9L650.2 17.2L652.0 16.6L653.8 16.0L655.6 15.4L655.9 15.3" stroke="#fbe1c8" stroke-width="3.0" stroke-dasharray="10.06 4.35" stroke-dashoffset="3.5" stroke-linecap="butt"/>
</g>
<path d="M106.2 25.2H148.8" stroke="#1f77b4" stroke-width="4.4" fill="none"/>
<path d="M108.3 52.2H149" stroke="#ff7f0e" stroke-width="3.0" stroke-dasharray="10.06 4.35" fill="none"/>
<g clip-path="url(#ci)" fill="none" stroke-linejoin="round">
<path d="M456.8 107.4L458.1 104.7L459.3 100.4L460.6 99.1L461.8 102.3L463.1 104.2L464.3 101.0L465.6 96.5L466.8 95.8L468.1 95.9L469.3 93.0L470.6 91.3L471.8 91.3L473.1 89.8L474.3 89.6L475.6 89.9L476.8 91.1L478.1 88.7L479.3 85.3L480.6 83.1L481.8 81.1L483.1 82.6L484.3 82.5L485.6 82.5L486.8 81.8L488.1 79.2L489.3 75.9L490.6 74.3L491.8 73.4L493.1 75.7L494.3 76.5L495.6 74.9L496.8 71.6L498.1 72.4L499.3 71.7L500.6 71.6L501.8 70.8L503.1 67.0L504.3 62.5L505.6 59.9L506.8 57.1L508.1 54.6L509.3 51.5L510.6 47.8L511.8 48.0L513.0 47.2L514.3 48.1L515.5 46.9L516.8 45.4L518.0 44.5L519.3 44.3L520.5 45.0L521.8 45.7L523.0 49.3L524.3 53.8L525.5 56.1L526.8 56.2L528.0 55.5L529.3 55.6L530.5 58.0L531.8 58.2L533.0 58.6L534.3 59.1L535.5 59.0L536.8 58.3L538.0 59.9L539.3 61.5L540.5 64.5L541.8 67.9L543.0 66.2L544.3 63.5L545.5 60.4L546.8 56.4L548.0 51.1L549.3 48.1L550.5 44.8L551.8 39.8L553.0 35.8L554.3 31.9L555.5 25.8L556.8 21.4L558.0 19.4L559.3 18.2L560.5 13.2L561.8 11.4L563.0 11.4L564.3 13.0L565.5 16.5L566.8 21.2L568.0 23.7L569.3 29.6L570.5 33.8L571.8 38.6L573.0 45.5L574.3 51.3L575.5 57.4L576.8 65.6L578.0 72.3L579.3 80.1L580.5 87.1L581.8 90.9L583.0 92.6L584.3 89.7L585.5 86.8L586.8 85.7L588.0 84.2L589.3 82.8L590.5 82.0L591.8 79.0L593.0 76.1L594.3 76.6L595.5 75.4L596.8 74.5L598.0 73.9L599.3 73.7L600.5 73.5L601.8 74.9L603.0 75.3L604.3 76.1L605.5 77.0L606.8 77.4L608.0 80.7L609.3 84.4L610.5 87.6L611.8 90.2L613.0 95.2L614.3 97.3L615.5 98.3L616.8 99.4L618.0 102.3L619.3 105.4L620.5 107.1L621.8 108.1L623.0 108.4L624.3 109.6L625.5 111.0L626.8 114.7L628.0 119.3L629.3 121.9L630.5 120.4L631.8 121.0L633.0 122.4L634.3 124.3L635.5 123.8L636.8 124.9L638.0 126.2L639.3 126.6L640.5 129.1L641.8 131.9L643.0 131.9L644.3 133.3L645.5 135.6L646.8 137.4L648.0 137.9L649.3 138.1L650.5 141.0L651.8 144.5L653.0 146.0L654.3 145.8L655.5 145.9L656.8 148.4L658.0 149.1L659.3 148.6L660.5 150.0L661.8 153.1L663.0 154.1L664.3 155.4L665.5 155.4L666.8 156.4L668.0 155.9L668.5 156.3" stroke="#1f77b4" stroke-width="4.5" stroke-linecap="square"/>
<path d="M457.5 119.1L458.6 118.0L459.6 117.0L460.7 115.9L461.7 114.9L462.8 113.8L463.9 112.8L464.9 111.7L466.0 110.7L467.0 109.6L468.1 108.5L469.1 107.4L470.2 106.2L471.3 105.0L472.3 103.7L473.4 102.6L474.4 101.5L475.5 100.4L476.6 99.4L477.6 98.4L478.7 97.5L479.7 96.7L480.8 96.0L481.9 95.3L482.9 94.7L484.0 94.2L485.0 93.6L486.1 93.0L487.2 92.4L488.2 91.8L489.3 91.2L490.3 90.6L491.4 90.0L492.4 89.4L493.5 88.8L494.6 88.2L495.6 87.6L496.7 87.0L497.7 86.2L498.8 85.1L499.9 83.8L500.9 82.0L502.0 79.9L503.0 77.9L504.1 75.8L505.2 73.1L506.2 69.8L507.3 67.1L508.3 64.9L509.4 62.8L510.5 60.9L511.5 58.8L512.6 56.5L513.6 54.2L514.7 52.1L515.7 50.4L516.8 48.8L517.9 47.4L518.9 46.2L520.0 45.4L521.0 44.9L522.1 44.5L523.2 44.5L524.2 44.7L525.3 45.2L526.3 46.3L527.4 47.9L528.5 49.8L529.5 52.1L530.6 54.7L531.6 57.5L532.7 60.5L533.7 63.9L534.8 66.6L535.9 68.7L536.9 70.2L538.0 71.2L539.0 72.0L540.1 72.5L541.2 72.7L542.2 72.5L543.3 72.0L544.3 70.5L545.4 68.5L546.5 65.0L547.5 62.2L548.6 59.6L549.6 57.1L550.7 54.8L551.8 52.5L552.8 50.1L553.9 47.3L554.9 44.1L556.0 40.8L557.0 37.7L558.1 35.0L559.2 32.5L560.2 30.5L561.3 28.9L562.3 28.1L563.4 28.5L564.5 30.5L565.5 34.5L566.6 38.7L567.6 43.4L568.7 48.2L569.8 52.6L570.8 56.9L571.9 61.3L572.9 66.1L574.0 71.0L575.0 75.6L576.1 80.2L577.2 84.4L578.2 87.8L579.3 90.8L580.3 93.3L581.4 95.6L582.5 97.7L583.5 99.3L584.6 100.6L585.6 101.3L586.7 101.1L587.8 100.7L588.8 99.7L589.9 98.0L590.9 95.9L592.0 93.3L593.1 90.6L594.1 88.1L595.2 85.8L596.2 83.7L597.3 82.1L598.3 80.7L599.4 80.0L600.5 79.4L601.5 79.3L602.6 79.8L603.6 80.6L604.7 81.7L605.8 83.1L606.8 84.6L607.9 86.4L608.9 88.3L610.0 90.3L611.1 92.6L612.1 95.2L613.2 97.8L614.2 100.7L615.3 103.7L616.4 106.6L617.4 109.4L618.5 112.2L619.5 114.8L620.6 117.1L621.6 119.0L622.7 120.7L623.8 122.4L624.8 124.0L625.9 125.2L626.9 126.3L628.0 127.3L629.1 128.2L630.1 129.0L631.2 129.7L632.2 130.3L633.3 130.7L634.4 131.2L635.4 131.6L636.5 132.1L637.5 132.6L638.6 133.1L639.6 133.6L640.7 134.2L641.8 134.7L642.8 135.2L643.9 135.8L644.9 136.4L646.0 137.1L647.1 137.9L648.1 138.7L649.2 139.6L650.2 140.5L651.3 141.4L652.4 142.2L653.4 143.0L654.5 143.8L655.5 144.6L656.6 145.3L657.7 146.1L658.7 146.8L659.8 147.6L660.8 148.4L661.9 149.2L662.9 150.1L664.0 151.0L665.1 151.9L666.1 152.8L667.2 153.8L668.2 154.8" stroke="#ff7f0e" stroke-width="3.0" stroke-dasharray="10.06 4.35"/>
</g>
<g stroke="#000" stroke-width="2.2" fill="none" stroke-linecap="square">
<rect x="446.9" y="4.3" width="231.1" height="158.9"/>
</g>
<g stroke="#000" stroke-width="2.0" fill="none">
<path d="M474.8 163.2V173.0"/>
<path d="M563.0 163.2V173.0"/>
<path d="M651.2 163.2V173.0"/>
<path d="M446.9 137.9H437.2"/>
<path d="M446.9 77.9H437.2"/>
<path d="M446.9 17.9H437.2"/>
</g>
<g>
<text x="112.58" y="358.70" font-size="19.8" textLength="22.08" lengthAdjust="spacingAndGlyphs">15</text>
<text x="203.11" y="358.70" font-size="19.8" textLength="21.87" lengthAdjust="spacingAndGlyphs">10</text>
<text x="299.27" y="358.70" font-size="19.8" textLength="10.94" lengthAdjust="spacingAndGlyphs">5</text>
<text x="380.93" y="358.70" font-size="19.8" textLength="10.94" lengthAdjust="spacingAndGlyphs">0</text>
<text x="470.79" y="358.70" font-size="19.8" textLength="11.12" lengthAdjust="spacingAndGlyphs">5</text>
<text x="555.64" y="358.70" font-size="19.8" textLength="22.45" lengthAdjust="spacingAndGlyphs">10</text>
<text x="647.01" y="358.70" font-size="19.8" textLength="21.70" lengthAdjust="spacingAndGlyphs">15</text>
<text x="38.31" y="302.40" font-size="19.8" textLength="33.16" lengthAdjust="spacingAndGlyphs">167</text>
<text x="38.27" y="242.30" font-size="19.8" textLength="33.47" lengthAdjust="spacingAndGlyphs">168</text>
<text x="38.25" y="182.20" font-size="19.8" textLength="33.46" lengthAdjust="spacingAndGlyphs">169</text>
<text x="38.26" y="122.10" font-size="19.8" textLength="33.56" lengthAdjust="spacingAndGlyphs">170</text>
<text x="38.20" y="62.00" font-size="19.8" textLength="34.06" lengthAdjust="spacingAndGlyphs">171</text>
<text x="376.64" y="144.85" font-size="19.8" textLength="50.77" lengthAdjust="spacingAndGlyphs">167.5</text>
<text x="376.64" y="84.90" font-size="19.8" textLength="50.77" lengthAdjust="spacingAndGlyphs">168.0</text>
<text x="376.64" y="24.95" font-size="19.8" textLength="50.77" lengthAdjust="spacingAndGlyphs">168.5</text>
<text x="463.50" y="196.20" font-size="19.8" textLength="39.64" lengthAdjust="spacingAndGlyphs">0.25</text>
<text x="542.80" y="196.20" font-size="19.8" textLength="40.32" lengthAdjust="spacingAndGlyphs">0.00</text>
<text x="631.12" y="196.20" font-size="19.8" textLength="39.91" lengthAdjust="spacingAndGlyphs">0.25</text>
<text x="162.99" y="32.20" font-size="19.8" textLength="110.23" lengthAdjust="spacingAndGlyphs">Experiment</text>
<text x="162.87" y="58.70" font-size="19.8" textLength="27.64" lengthAdjust="spacingAndGlyphs">Fit</text>
<text x="220.27" y="393.60" font-size="30.8" textLength="66.26" lengthAdjust="spacingAndGlyphs">Clock</text>
<text x="297.35" y="393.60" font-size="30.8" textLength="52.88" lengthAdjust="spacingAndGlyphs">laser</text>
<text x="360.76" y="393.60" font-size="30.8" textLength="105.34" lengthAdjust="spacingAndGlyphs">detuning</text>
<text x="476.23" y="393.60" font-size="30.8" textLength="77.29" lengthAdjust="spacingAndGlyphs">(MHz)</text>
<text transform="translate(21.50 276.67) rotate(-90)" font-size="30.8" textLength="154.21" lengthAdjust="spacingAndGlyphs">Fluorescence</text>
<text transform="translate(21.50 110.59) rotate(-90)" font-size="30.8" textLength="58.40" lengthAdjust="spacingAndGlyphs">(mV)</text>
<path d="M97.1 353.3H110.2" stroke="#000" stroke-width="1.15" fill="none"/>
<path d="M187.6 353.3H200.7" stroke="#000" stroke-width="1.15" fill="none"/>
<path d="M284.1 353.3H297.2" stroke="#000" stroke-width="1.15" fill="none"/>
<path d="M448.6 191.2H461.6" stroke="#000" stroke-width="1.15" fill="none"/>
</g>
</svg></body></html>
